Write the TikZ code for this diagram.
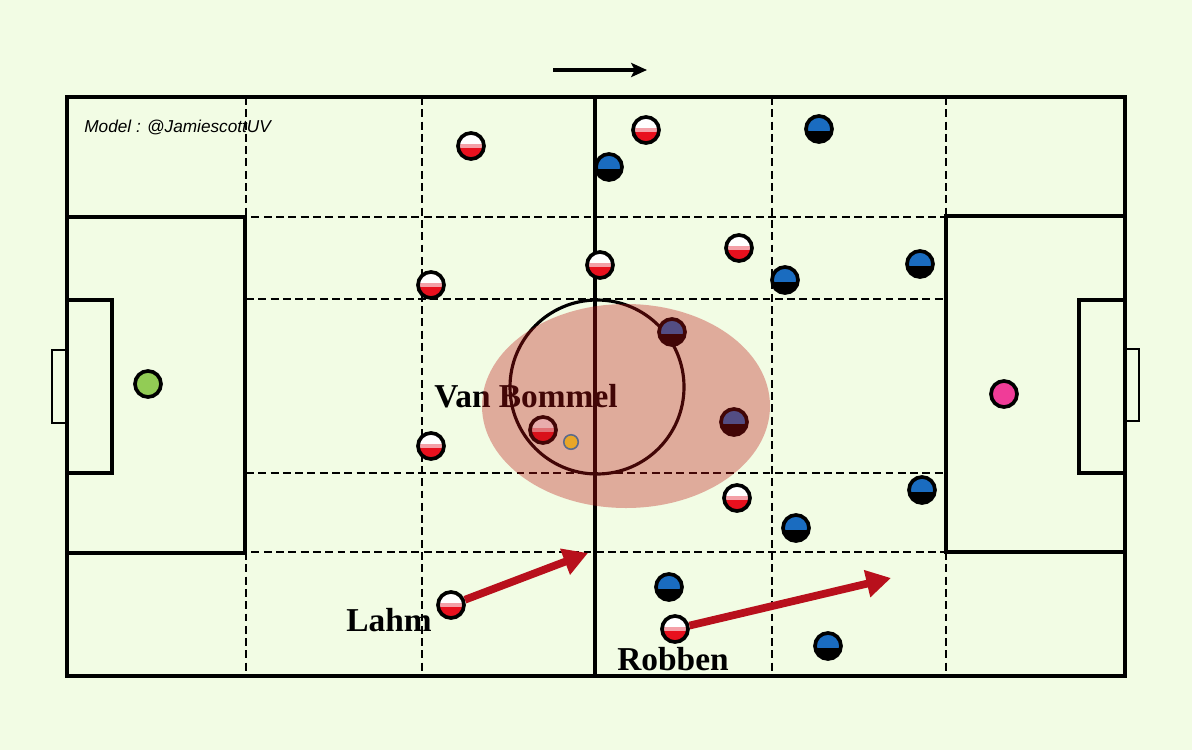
\documentclass[tikz,border=0pt]{standalone}
\usepackage{fontspec}
\setmainfont{Liberation Serif}
\setsansfont{Liberation Sans}
\usetikzlibrary{arrows.meta,positioning}
\definecolor{turf}{HTML}{F2FCE4}
\definecolor{shirtred}{HTML}{E8101E}
\definecolor{shirtpink}{HTML}{F4A0A8}
\definecolor{shirtblue}{HTML}{1A6CC0}
\definecolor{keepgreen}{HTML}{92CC55}
\definecolor{keeppink}{HTML}{F03C98}
\definecolor{ballorange}{HTML}{E8A628}
\definecolor{ballring}{HTML}{5A6A8C}
\definecolor{runred}{HTML}{B8101C}
\definecolor{zone}{RGB}{190,20,20}

\begin{document}
\begin{tikzpicture}[x=0.02cm,y=-0.02cm,
  pitch/.style={line width=2.1pt},
  box/.style={line width=1.9pt},
  goal/.style={line width=1.3pt},
  grid/.style={line width=1.2pt,dash pattern=on 4.5pt off 2.5pt},
  player/.style={circle,draw=black,line width=2.1pt,minimum size=0.52cm,inner sep=0pt},
  rw/.style={player,fill=white,path picture={
      \fill[shirtpink] ([yshift=1pt]path picture bounding box.west) rectangle ([yshift=-1pt]path picture bounding box.east);
      \fill[shirtred] ([yshift=-1pt]path picture bounding box.west) rectangle (path picture bounding box.south east);}},
  bb/.style={player,fill=shirtblue,path picture={
      \fill[black] ([yshift=-1pt]path picture bounding box.west) rectangle (path picture bounding box.south east);}},
  keeper/.style={player},
  ball/.style={circle,draw=ballring,line width=0.9pt,fill=ballorange,minimum size=0.29cm,inner sep=0pt},
  tag/.style={font=\fontsize{19}{21}\selectfont\bfseries},
  note/.style={font=\sffamily\itshape\fontsize{9.8}{12}\selectfont,anchor=west,inner sep=0pt},
  run/.style={-{Triangle[length=14pt,width=15pt]},line width=4.4pt,draw=runred},
  dir/.style={-{Stealth[length=9pt,width=8pt,inset=2pt]},line width=2.3pt}]
\fill[turf] (0,0) rectangle (1192,750);
% grid of zones
\foreach \gx in {246,422,772,946}
  \draw[grid] (\gx,97) -- (\gx,676);
\foreach \gy in {217,552}
  \draw[grid] (67,\gy) -- (1125,\gy);
\foreach \gy in {299,473}
  \draw[grid] (246,\gy) -- (946,\gy);
% pitch
\draw[pitch] (67,97) rectangle (1125,676);
\draw[pitch] (595,97) -- (595,676);
\draw[box] (67,217) rectangle (245,553);
\draw[box] (946,216) rectangle (1125,552);
\draw[box] (67,300) rectangle (112,473);
\draw[box] (1079,300) rectangle (1125,473);
\draw[goal] (67,350) -- (52,350) -- (52,423) -- (67,423);
\draw[goal] (1125,349) -- (1139,349) -- (1139,421) -- (1125,421);
\draw[line width=1.8pt] (597,387) circle [radius=87];
\node[note] (model) at (84,127) {Model : @JamiescottUV};
\coordinate (dirA) at (553,70);
\coordinate (dirB) at (647,70);
\draw[dir] (dirA) -- (dirB);
% red / white
\node[keeper,fill=keepgreen] (gkr) at (148,384) {};
\node[rw] (r1) at (471,146) {};
\node[rw] (r2) at (646,130) {};
\node[rw] (r3) at (600,265) {};
\node[rw] (r4) at (739,248) {};
\node[rw] (r5) at (431,285) {};
\node[rw] (bommel) at (543,430) {};
\node[rw] (r7) at (431,446) {};
\node[rw] (r8) at (737,498) {};
\node[rw] (lahm) at (451,605) {};
\node[rw] (robben) at (675,629) {};
% blue / black
\node[keeper,fill=keeppink] (gkb) at (1004,394) {};
\node[bb] (b1) at (609,167) {};
\node[bb] (b2) at (819,129) {};
\node[bb] (b3) at (785,280) {};
\node[bb] (b4) at (920,264) {};
\node[bb] (b5) at (672,332) {};
\node[bb] (b6) at (734,422) {};
\node[bb] (b7) at (922,490) {};
\node[bb] (b8) at (796,528) {};
\node[bb] (b9) at (669,587) {};
\node[bb] (b10) at (828,646) {};
% names
\node[tag] (tbommel) at (526,396) {Van Bommel};
\node[tag] (tlahm) at (389,620) {Lahm};
\node[tag] (trobben) at (673,659) {Robben};
% runs
\coordinate (lahmto) at (588,553);
\coordinate (robbento) at (891,578);
\draw[run] (lahm) -- (lahmto);
\draw[run] (robben) -- (robbento);
% zone round van bommel
\fill[zone,opacity=0.35] (626,406) ellipse [x radius=144,y radius=102];
\node[ball] (ball) at (571,442) {};
\end{tikzpicture}
\end{document}
